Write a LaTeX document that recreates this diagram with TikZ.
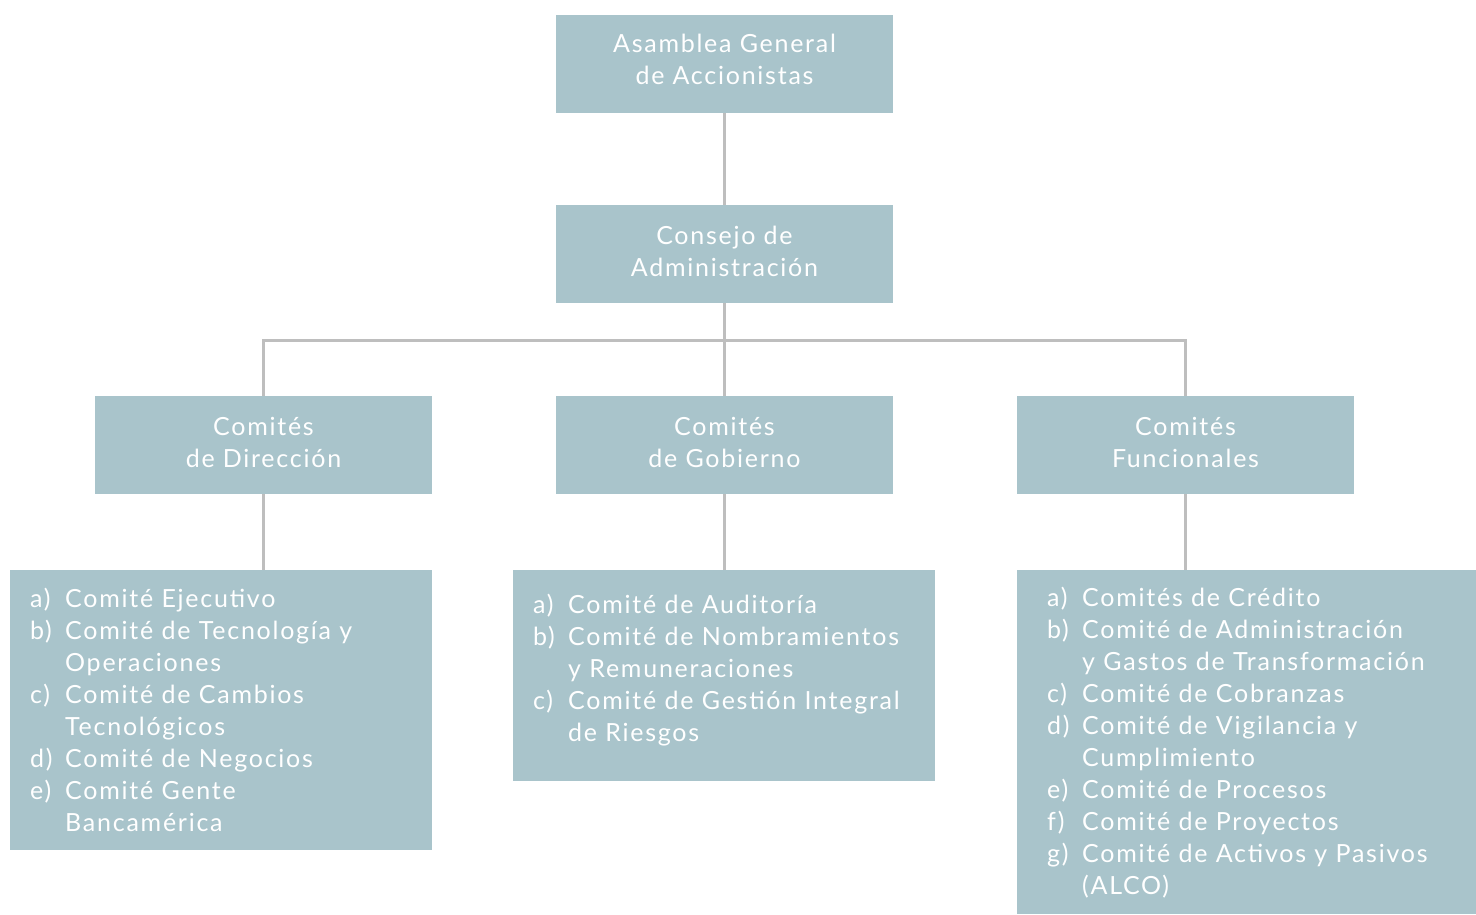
\documentclass[tikz,border=0pt]{standalone}
\usepackage{fontspec}
\setmainfont{Lato}[LetterSpace=7]
\usetikzlibrary{positioning}
\definecolor{boxblue}{HTML}{A9C4CB}
\definecolor{linegray}{HTML}{BEBEBE}
\newcommand{\itm}[1]{\makebox[35pt][l]{#1}}

\begin{document}
\begin{tikzpicture}[x=1pt, y=-1pt,
      unit/.style={fill=boxblue, text=white, minimum width=337pt, minimum height=98pt,
        inner sep=0pt, align=center, font=\fontsize{25}{32}\selectfont},
      list/.style={fill=boxblue, text=white, anchor=north west, inner ysep=0pt,
        align=left, font=\fontsize{25}{32}\selectfont},
      link/.style={draw=linegray, line width=3pt}]
    \useasboundingbox (0,0) rectangle (1476,914);

    % upper boxes
    \node[unit] (asamblea) at (724.5,64) {Asamblea General\\de Accionistas\rule[-10pt]{0pt}{0pt}};
    \node[unit] (consejo) at (724.5,254) {Consejo de\\Administración\rule[-5pt]{0pt}{0pt}};
    \node[unit] (direccion) at (263.5,445) {Comités\\de Dirección\rule[-5pt]{0pt}{0pt}};
    \node[unit] (gobierno) at (724.5,445) {Comités\\de Gobierno\rule[-5pt]{0pt}{0pt}};
    \node[unit] (funcionales) at (1185.5,445) {Comités\\Funcionales\rule[-5pt]{0pt}{0pt}};
    \coordinate (bus) at (724.5,340);

    % lists of committees
    \node[list, text width=382pt, inner xsep=20pt, minimum height=280pt] (dirlist) at (10,570)
      {\itm{a)}Comité Ejecutivo\\
       \itm{b)}Comité de Tecnología y\\
       \itm{}Operaciones\\
       \itm{c)}Comité de Cambios\\
       \itm{}Tecnológicos\\
       \itm{d)}Comité de Negocios\\
       \itm{e)}Comité Gente\\
       \itm{}Bancamérica};
    \node[list, text width=382pt, inner xsep=20pt, minimum height=211pt] (goblist) at (513,570)
      {\itm{a)}Comité de Auditoría\\
       \itm{b)}Comité de Nombramientos\\
       \itm{}y Remuneraciones\\
       \itm{c)}Comité de Gestión Integral\\
       \itm{}de Riesgos\rule[-15pt]{0pt}{0pt}};
    \node[list, text width=399pt, inner xsep=30pt, minimum height=344pt] (funlist) at (1017,570)
      {\itm{a)}Comités de Crédito\\
       \itm{b)}Comité de Administración\\
       \itm{}y Gastos de Transformación\\
       \itm{c)}Comité de Cobranzas\\
       \itm{d)}Comité de Vigilancia y\\
       \itm{}Cumplimiento\\
       \itm{e)}Comité de Procesos\\
       \itm{f)}Comité de Proyectos\\
       \itm{g)}Comité de Activos y Pasivos\\
       \itm{}(ALCO)};

    % connectors
    \draw[link] (asamblea) -- (consejo);
    \draw[link] (consejo) -- (gobierno);
    \draw[link] (direccion) |- (bus) -| (funcionales);
    \draw[link] (direccion.south) -- (direccion.south |- dirlist.north);
    \draw[link] (gobierno.south) -- (gobierno.south |- goblist.north);
    \draw[link] (funcionales.south) -- (funcionales.south |- funlist.north);
\end{tikzpicture}
\end{document}
